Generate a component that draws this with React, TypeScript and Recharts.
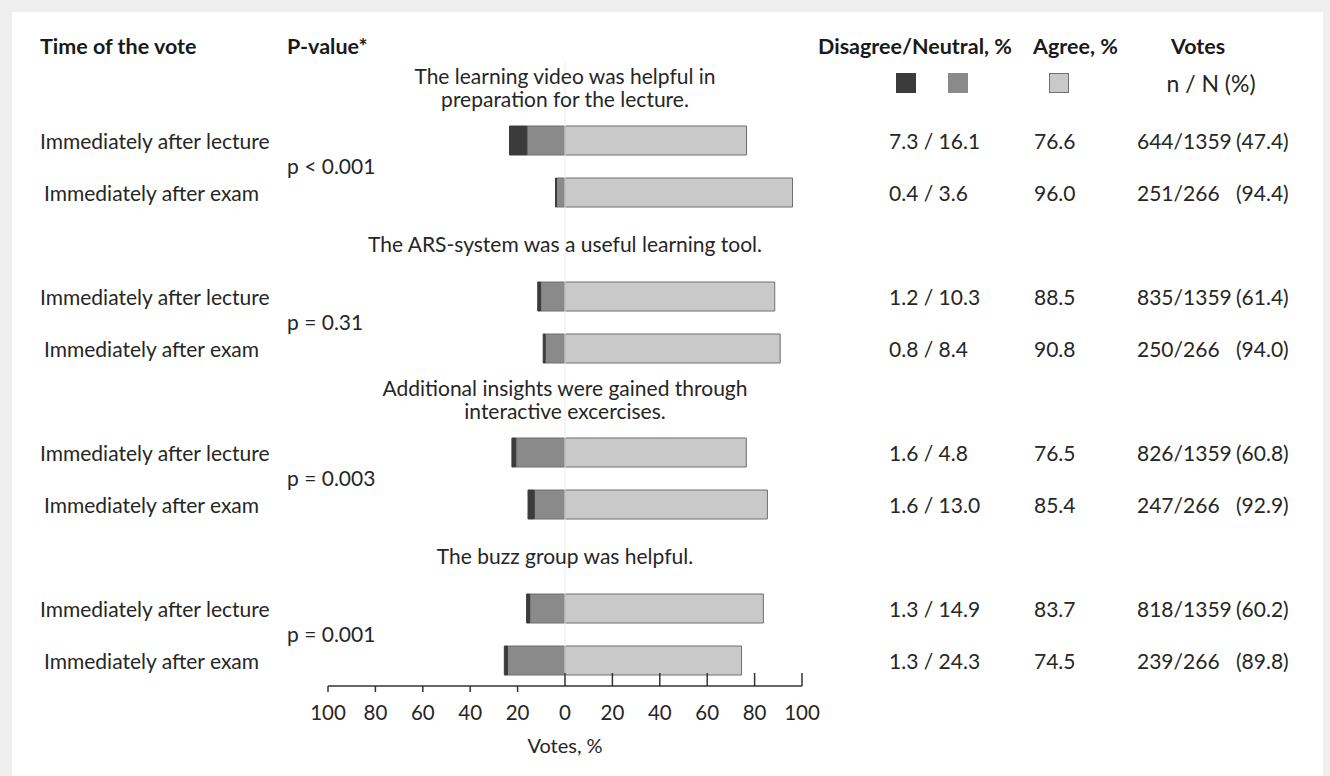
import { BarChart, Bar, XAxis, YAxis, ReferenceLine } from "recharts";

const questions = [
  "The learning video was helpful in\npreparation for the lecture.",
  "The ARS-system was a useful learning tool.",
  "Additional insights were gained through\ninteractive excercises.",
  "The buzz group was helpful.",
];
const pValues = ["p < 0.001", "p = 0.31", "p = 0.003", "p = 0.001"];
const timeLabels = ["Immediately after lecture", "Immediately after exam"];

// table columns, one entry per row, top to bottom (as printed)
const disagreeText = [7.3, 0.4, 1.2, 0.8, 1.6, 1.6, 1.3, 1.3];
const neutralText = [16.1, 3.6, 10.3, 8.4, 4.8, 13.0, 14.9, 24.3];
const agree = [76.6, 96.0, 88.5, 90.8, 76.5, 85.4, 83.7, 74.5];
const votesN = [644, 251, 835, 250, 826, 247, 818, 239];
const votesTotal = [1359, 266, 1359, 266, 1359, 266, 1359, 266];
const votesPct = ["47.4", "94.4", "61.4", "94.0", "60.8", "92.9", "60.2", "89.8"];

// bar lengths as drawn (row 5 bar is longer than its printed 4.8)
const disagreeBar = [7.3, 0.4, 1.2, 0.8, 1.6, 2.6, 1.3, 1.3];
const neutralBar = [16.1, 3.6, 10.3, 8.4, 20.8, 13.0, 14.9, 24.3];

const axisTicks = [-100, -80, -60, -40, -20, 0, 20, 40, 60, 80, 100];

const FONT = "Lato, 'Liberation Sans', sans-serif";
const TEXT = "#262626";
const DARK = "#3b3b3b";
const MID = "#8a8a8a";
const LIGHT = "#c9c9c9";
const EDGE = "#6f6f6f";

const W = 1330;
const H = 776;
const Y_AXIS_W = 10;
const M = { top: 62, right: 528, bottom: 60, left: 328 - Y_AXIS_W };
const ZERO_X = 565;

const rows = questions.flatMap((question, q) => [
  { key: `q${q}`, kind: "title", q, question },
  ...timeLabels.map((time, t) => {
    const i = q * 2 + t;
    return {
      key: `r${i}`,
      kind: "row",
      q,
      t,
      i,
      time,
      neutral: -neutralBar[i],
      disagree: -disagreeBar[i],
      agree: agree[i],
    };
  }),
]);
const rowByKey: Record<string, any> = Object.fromEntries(rows.map((r) => [r.key, r]));

function RowTick(props: any) {
  const { y, payload } = props;
  const row: any = rowByKey[payload?.value];
  if (!row) return <g />;
  const common = { fontFamily: FONT, fontSize: 21, fill: TEXT, dominantBaseline: "central" as const };
  if (row.kind === "title") {
    const lines = row.question.split("\n");
    return (
      <g>
        {lines.map((line: string, k: number) => (
          <text key={k} x={ZERO_X} y={y - 1 + (k - (lines.length - 1) / 2) * 23} textAnchor="middle" {...common}>
            {line}
          </text>
        ))}
      </g>
    );
  }
  const i = row.i;
  return (
    <g>
      <text x={row.t === 0 ? 40 : 44} y={y} textAnchor="start" {...common}>{row.time}</text>
      {row.t === 0 && (
        <text x={287} y={y + 25} textAnchor="start" {...common}>{pValues[row.q]}</text>
      )}
      <text x={889} y={y} textAnchor="start" {...common}>
        {`${disagreeText[i].toFixed(1)} / ${neutralText[i].toFixed(1)}`}
      </text>
      <text x={1034} y={y} textAnchor="start" {...common}>{agree[i].toFixed(1)}</text>
      <text x={1137} y={y} textAnchor="start" {...common}>{`${votesN[i]}/${votesTotal[i]}`}</text>
      <text x={1236} y={y} textAnchor="start" {...common}>{`(${votesPct[i]})`}</text>
    </g>
  );
}

function VoteTick(props: any) {
  const { x, y, payload } = props;
  const v = payload.value;
  return (
    <g>
      <line x1={x} x2={x} y1={y} y2={v >= 0 ? y - 13 : y + 6} stroke="#333" strokeWidth={1.5} />
      <text x={x} y={y + 26} textAnchor="middle" dominantBaseline="central" fontFamily={FONT} fontSize={20.5} fill={TEXT}>
        {Math.abs(v)}
      </text>
      {v === 0 && (
        <text x={x} y={y + 59} textAnchor="middle" dominantBaseline="central" fontFamily={FONT} fontSize={20} fill={TEXT}>
          Votes, %
        </text>
      )}
    </g>
  );
}

const header: React.CSSProperties = {
  position: "absolute",
  fontFamily: FONT,
  fontWeight: 700,
  fontSize: 21.5,
  color: "#1a1a1a",
  whiteSpace: "nowrap",
  lineHeight: "22px",
};

function Swatch({ left, color }: { left: number; color: string }) {
  return (
    <div
      style={{
        position: "absolute",
        left,
        top: 73,
        width: 20,
        height: 20,
        background: color,
        boxSizing: "border-box",
        border: `1px solid ${color === LIGHT ? EDGE : color}`,
      }}
    />
  );
}

export default function App() {
  return (
    <div style={{ position: "fixed", left: 0, top: 0, width: W, height: H, background: "#efefef", overflow: "hidden" }}>
      <div style={{ position: "absolute", left: 12, top: 12, width: 1311, height: H - 12, background: "#fff" }} />

      <div style={{ ...header, left: 40, top: 35 }}>Time of the vote</div>
      <div style={{ ...header, left: 287, top: 35 }}>P-value*</div>
      <div style={{ ...header, left: 818, top: 35 }}>Disagree/Neutral, %</div>
      <div style={{ ...header, left: 1033, top: 35 }}>Agree, %</div>
      <div style={{ ...header, left: 1171, top: 35 }}>Votes</div>

      <Swatch left={896} color={DARK} />
      <Swatch left={948} color={MID} />
      <Swatch left={1049} color={LIGHT} />
      <div
        style={{
          position: "absolute",
          left: 1111,
          width: 200,
          textAlign: "center",
          top: 70,
          fontFamily: FONT,
          fontSize: 23,
          lineHeight: "26px",
          color: TEXT,
        }}
      >
        n / N (%)
      </div>

      <div style={{ position: "absolute", left: 0, top: 0 }}>
        <BarChart
          width={W}
          height={H}
          data={rows}
          layout="vertical"
          stackOffset="sign"
          margin={M}
          barSize={29}
        >
          <XAxis
            type="number"
            domain={[-100, 100]}
            ticks={axisTicks}
            interval={0}
            height={30}
            tickSize={0}
            tickMargin={0}
            tickLine={false}
            axisLine={{ stroke: "#333", strokeWidth: 1.5 }}
            tick={(p: any) => <VoteTick {...p} />}
          />
          <YAxis
            type="category"
            dataKey="key"
            width={Y_AXIS_W}
            interval={0}
            axisLine={false}
            tickLine={false}
            tick={(p: any) => <RowTick {...p} />}
          />
          <ReferenceLine x={0} stroke="#ececec" />
          <Bar dataKey="neutral" stackId="v" fill={MID} stroke={EDGE} strokeWidth={1} isAnimationActive={false} />
          <Bar dataKey="disagree" stackId="v" fill={DARK} stroke={DARK} strokeWidth={1} isAnimationActive={false} />
          <Bar dataKey="agree" stackId="v" fill={LIGHT} stroke={EDGE} strokeWidth={1} isAnimationActive={false} />
        </BarChart>
      </div>
    </div>
  );
}
